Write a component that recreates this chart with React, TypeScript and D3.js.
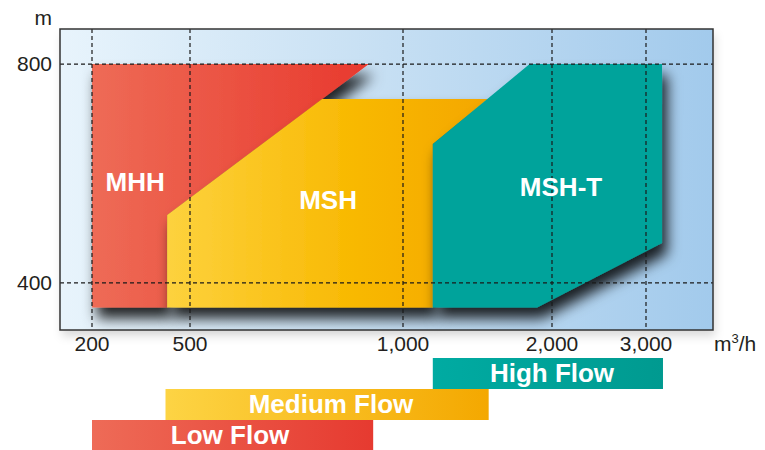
import React from "react";
import * as d3 from "d3";

// ---- data ----
const xTicks = [200, 500, 1000, 2000, 3000];
const xTickLabels = ["200", "500", "1,000", "2,000", "3,000"];
const yTicks = [400, 800];
const yTickLabels = ["400", "800"];
const xExtent = [102, 3710];
const yExtent = [314, 864];

const mhhPoly: [number, number][] = [[200, 800], [920, 800], [430, 524], [430, 355], [200, 355]];
const mshPoly: [number, number][] = [[430, 524], [810, 736], [1570, 736], [1200, 654], [1200, 355], [430, 355]];
const mshtPoly: [number, number][] = [[1200, 654], [1850, 800], [3170, 800], [3170, 473], [1900, 355], [1200, 355]];

const regionNames = ["MHH", "MSH", "MSH-T"];
const regionLabelPos: [number, number][] = [[332, 568], [824, 535], [2096, 559]];

const flowNames = ["High Flow", "Medium Flow", "Low Flow"];
const flowFrom = [1200, 425, 200];
const flowTo = [3180, 1575, 930];
const flowLabelAt = [2000, 831, 594];

// ---- layout ----
const W = 765, H = 450;
const plot = { left: 60, right: 713, top: 29, bottom: 330 };

export default function App() {
  const x = d3
    .scaleLinear()
    .domain([xExtent[0], ...xTicks, xExtent[1]])
    .range([plot.left, 92, 190, 403, 552, 646, plot.right]);
  const y = d3.scaleLinear().domain(yExtent).range([plot.bottom, plot.top]);
  const line = d3.line<[number, number]>().x((d) => x(d[0])).y((d) => y(d[1])).curve(d3.curveLinearClosed);
  const band = d3.scaleBand<string>().domain(flowNames).range([358, 451]).paddingInner(0);

  const polys = [
    { pts: mhhPoly, fill: "url(#gRed)" },
    { pts: mshPoly, fill: "url(#gYel)" },
    { pts: mshtPoly, fill: "#00a39b" },
  ];
  const barFills = ["url(#gTeal)", "url(#gYel2)", "url(#gRed2)"];
  const font = "'Liberation Sans', Arial, Helvetica, sans-serif";

  return (
    <svg width={W} height={H} style={{ position: "absolute", left: 0, top: 0 }} fontFamily={font}>
      <defs>
        <linearGradient id="gBg" x1="0" x2="1" y1="0" y2="0">
          <stop offset="0" stopColor="#e8f4fc" />
          <stop offset="0.5" stopColor="#c6dff3" />
          <stop offset="1" stopColor="#a2caec" />
        </linearGradient>
        <linearGradient id="gRed" x1="0" x2="1" y1="0" y2="0">
          <stop offset="0" stopColor="#ee6b56" />
          <stop offset="1" stopColor="#e8392e" />
        </linearGradient>
        <linearGradient id="gYel" x1="0" x2="1" y1="0" y2="0">
          <stop offset="0" stopColor="#fdd23e" />
          <stop offset="0.6" stopColor="#f8b800" />
          <stop offset="1" stopColor="#f4a700" />
        </linearGradient>
        <linearGradient id="gRed2" x1="0" x2="1" y1="0" y2="0">
          <stop offset="0" stopColor="#ee6b57" />
          <stop offset="1" stopColor="#e63a30" />
        </linearGradient>
        <linearGradient id="gYel2" x1="0" x2="1" y1="0" y2="0">
          <stop offset="0" stopColor="#fdd444" />
          <stop offset="1" stopColor="#f4a800" />
        </linearGradient>
        <linearGradient id="gTeal" x1="0" x2="1" y1="0" y2="0">
          <stop offset="0" stopColor="#00aba2" />
          <stop offset="1" stopColor="#009a90" />
        </linearGradient>
        <filter id="shadow" x="-20%" y="-20%" width="140%" height="160%">
          <feDropShadow dx="5" dy="11" stdDeviation="7" floodColor="#000" floodOpacity="0.85" />
        </filter>
        <filter id="boxShadow" x="-5%" y="-5%" width="110%" height="115%">
          <feDropShadow dx="2" dy="6" stdDeviation="5" floodColor="#000" floodOpacity="0.15" />
        </filter>
        <clipPath id="plotClip">
          <rect x={plot.left} y={plot.top} width={plot.right - plot.left} height={plot.bottom - plot.top + 6} />
        </clipPath>
      </defs>

      {/* plot background */}
      <rect
        x={plot.left}
        y={plot.top}
        width={plot.right - plot.left}
        height={plot.bottom - plot.top}
        fill="url(#gBg)"
        filter="url(#boxShadow)"
      />

      {/* regions */}
      <g clipPath="url(#plotClip)">
        {polys.map((p, i) => (
          <path key={i} d={line(p.pts) || ""} fill={p.fill} filter="url(#shadow)" />
        ))}
      </g>

      {/* grid */}
      <g stroke="#1a1a1a" strokeWidth={1.2} strokeDasharray="4 3">
        {xTicks.map((t) => (
          <line key={t} x1={x(t)} x2={x(t)} y1={plot.top} y2={plot.bottom} />
        ))}
        {yTicks.map((t) => (
          <line key={t} x1={plot.left} x2={plot.right} y1={y(t)} y2={y(t)} />
        ))}
      </g>

      {/* frame */}
      <rect
        x={plot.left}
        y={plot.top}
        width={plot.right - plot.left}
        height={plot.bottom - plot.top}
        fill="none"
        stroke="#333"
        strokeWidth={1.5}
      />

      {/* region labels */}
      {regionNames.map((n, i) => (
        <text
          key={n}
          x={x(regionLabelPos[i][0])}
          y={y(regionLabelPos[i][1])}
          textAnchor="middle"
          fill="#fff"
          fontWeight="bold"
          fontSize={26}
        >
          {n}
        </text>
      ))}

      {/* axis labels */}
      <g fill="#231f20" fontSize={21}>
        {xTicks.map((t, i) => (
          <text key={t} x={x(t)} y={351} textAnchor="middle">
            {xTickLabels[i]}
          </text>
        ))}
        {yTicks.map((t, i) => (
          <text key={t} x={52} y={y(t) + 7} textAnchor="end">
            {yTickLabels[i]}
          </text>
        ))}
        <text x={52} y={25} textAnchor="end">m</text>
        <text x={714} y={351}>
          m<tspan fontSize={13} dy={-8}>3</tspan>
          <tspan dy={8}>/h</tspan>
        </text>
      </g>

      {/* flow bands */}
      {flowNames.map((n, i) => {
        const x0 = x(flowFrom[i]);
        const x1 = x(flowTo[i]);
        const by = band(n) || 0;
        return (
          <g key={n}>
            <rect x={x0} y={by} width={x1 - x0} height={band.bandwidth()} fill={barFills[i]} />
            <text
              x={x(flowLabelAt[i])}
              y={by + band.bandwidth() - 7}
              textAnchor="middle"
              fill="#fff"
              fontWeight="bold"
              fontSize={26}
            >
              {n}
            </text>
          </g>
        );
      })}
    </svg>
  );
}
